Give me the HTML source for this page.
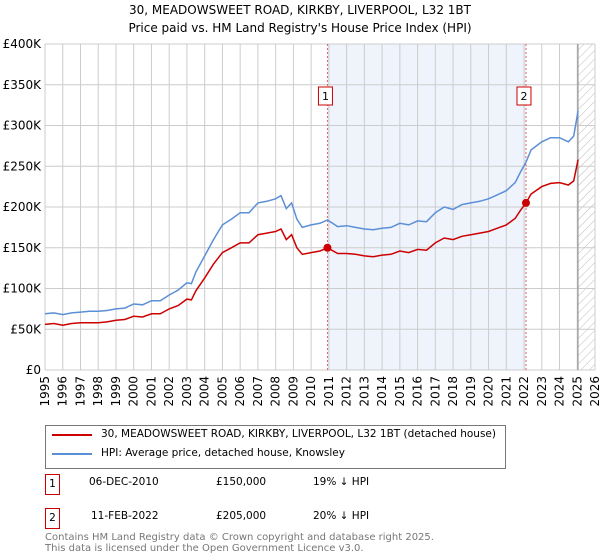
<!DOCTYPE html>
<html><head><meta charset="utf-8">
<style>
body{margin:0;background:#fff;font-family:"DejaVu Sans","Liberation Sans",sans-serif;}
#wrap{position:relative;width:600px;height:560px;overflow:hidden;}
</style></head>
<body>
<div id="wrap">
<svg id="chart" width="600" height="560" style="position:absolute;left:0;top:0;font-family:'DejaVu Sans','Liberation Sans',sans-serif">
<defs>
<pattern id="hatch" width="6" height="6" patternUnits="userSpaceOnUse" patternTransform="rotate(45)">
<line x1="0" y1="0" x2="0" y2="6" stroke="#bbb" stroke-width="1"/>
</pattern>
</defs>
<text x="300" y="14" text-anchor="middle" font-size="12" fill="#000">30, MEADOWSWEET ROAD, KIRKBY, LIVERPOOL, L32 1BT</text>
<text x="300" y="32" text-anchor="middle" font-size="12" fill="#000">Price paid vs. HM Land Registry's House Price Index (HPI)</text>
<g id="grid"></g><g id="marks"></g><g id="axes"></g>
</svg>
<div style="position:absolute;left:45px;top:425px;width:459px;height:42px;border:1px solid #777;font-size:10.5px;">
 <div style="position:absolute;left:6px;top:8px;width:40px;height:2px;background:#cc0000"></div>
 <div style="position:absolute;left:55px;top:2px;white-space:nowrap">30, MEADOWSWEET ROAD, KIRKBY, LIVERPOOL, L32 1BT (detached house)</div>
 <div style="position:absolute;left:6px;top:27px;width:40px;height:2px;background:#5b8fd6"></div>
 <div style="position:absolute;left:55px;top:21px;white-space:nowrap">HPI: Average price, detached house, Knowsley</div>
</div>
<div style="font-size:10.5px;">
 <div style="position:absolute;left:45px;top:474px;width:13px;height:19px;border:1px solid #cc0000;text-align:center;line-height:19px">1</div>
 <div style="position:absolute;left:89px;top:476px">06-DEC-2010</div>
 <div style="position:absolute;left:216px;top:476px">£150,000</div>
 <div style="position:absolute;left:313px;top:476px">19% ↓ HPI</div>
 <div style="position:absolute;left:45px;top:508px;width:13px;height:19px;border:1px solid #cc0000;text-align:center;line-height:19px">2</div>
 <div style="position:absolute;left:91px;top:510px">11-FEB-2022</div>
 <div style="position:absolute;left:216px;top:510px">£205,000</div>
 <div style="position:absolute;left:313px;top:510px">20% ↓ HPI</div>
</div>
<div style="position:absolute;left:45px;top:532px;font-size:10px;color:#777;line-height:11px">Contains HM Land Registry data © Crown copyright and database right 2025.<br>This data is licensed under the Open Government Licence v3.0.</div>
</div>
<script>
const years=[1995,1995.5,1996,1996.5,1997,1997.5,1998,1998.5,1999,1999.5,2000,2000.5,2001,2001.5,2002,2002.5,2003,2003.25,2003.5,2004,2004.5,2005,2005.5,2006,2006.5,2007,2007.5,2008,2008.3,2008.6,2008.9,2009.2,2009.5,2010,2010.5,2010.92,2011.5,2012,2012.5,2013,2013.5,2014,2014.5,2015,2015.5,2016,2016.5,2017,2017.5,2018,2018.5,2019,2019.5,2020,2020.5,2021,2021.5,2021.8,2022.11,2022.4,2023,2023.5,2024,2024.5,2024.8,2025.05];
const hpiValues=[69,70,68,70,71,72,72,73,75,76,81,80,85,85,92,98,107,106,120,140,160,178,185,193,193,205,207,210,214,198,205,185,175,178,180,184,176,177,175,173,172,174,175,180,178,183,182,193,200,197,203,205,207,210,215,220,230,243,255,270,280,285,285,280,287,318];
const priceValues=[56,57,55,57,58,58,58,59,61,62,66,65,69,69,75,79,87,86,97,113,130,144,150,156,156,166,168,170,173,160,166,150,142,144,146,150,143,143,142,140,139,141,142,146,144,148,147,156,162,160,164,166,168,170,174,178,186,196,205,216,225,229,230,227,232,258];
const saleYears=[2010.92,2022.11];
const salePrices=[150,205];
const saleLabels=["1","2"];
const yTicks=[0,50,100,150,200,250,300,350,400];
const yTickLabels=["£0","£50K","£100K","£150K","£200K","£250K","£300K","£350K","£400K"];
const xTicks=[1995,1996,1997,1998,1999,2000,2001,2002,2003,2004,2005,2006,2007,2008,2009,2010,2011,2012,2013,2014,2015,2016,2017,2018,2019,2020,2021,2022,2023,2024,2025,2026];
const forecastStart=2025.04;

const NS="http://www.w3.org/2000/svg";
const L=45,R=595,T=44,B=370;
const x=v=>L+(v-1995)/(2026-1995)*(R-L);
const y=v=>B-v/400*(B-T);
function mk(tag,attrs,parent){const e=document.createElementNS(NS,tag);for(const k in attrs)e.setAttribute(k,attrs[k]);parent.appendChild(e);return e;}
const grid=document.getElementById('grid'),marks=document.getElementById('marks'),axes=document.getElementById('axes');

let shade=mk('rect',{x:x(saleYears[0]),y:T,width:x(saleYears[1])-x(saleYears[0]),height:B-T,fill:'#eef3fc'},grid);


let hatch=mk('rect',{x:x(forecastStart),y:T,width:R-x(forecastStart),height:B-T,fill:'url(#hatch)'},grid);



xTicks.forEach(t=>{
  let g=mk('line',{x1:x(t),x2:x(t),y1:T,y2:B,stroke:'#ccc','stroke-width':1},grid);
  
  
  let tx=mk('text',{x:0,y:0,'font-size':12,fill:'#000','text-anchor':'end',transform:`translate(${x(t)+4},${B+6}) rotate(-90)`},axes);
  tx.textContent=t;
  
  
});
yTicks.forEach((t,i)=>{
  let g=mk('line',{x1:L,x2:R,y1:y(t),y2:y(t),stroke:'#ccc','stroke-width':1},grid);
  
  
  let tx=mk('text',{x:L-4,y:y(t)+4,'font-size':12,fill:'#000','text-anchor':'end'},axes);
  tx.textContent=yTickLabels[i];
  
  
});
let fl=mk('line',{x1:x(forecastStart),x2:x(forecastStart),y1:T,y2:B,stroke:'#888','stroke-width':1},grid);



saleYears.forEach((s,i)=>{
  let d=mk('line',{x1:x(s),x2:x(s),y1:T,y2:B,stroke:'#e06666','stroke-width':1,'stroke-dasharray':'2,2'},grid);
  
  
});

const pts=(vals)=>years.map((yr,i)=>x(yr).toFixed(1)+','+y(vals[i]).toFixed(1)).join(' ');
let hpi=mk('polyline',{points:pts(hpiValues),fill:'none',stroke:'#5b8fd6','stroke-width':1.5},marks);


let pl=mk('polyline',{points:pts(priceValues),fill:'none',stroke:'#cc0000','stroke-width':1.5},marks);



saleYears.forEach((s,i)=>{
  let c=mk('circle',{cx:x(s),cy:y(salePrices[i]),r:4,fill:'#cc0000'},marks);
  
  
  let b=mk('rect',{x:x(s)-9,y:87,width:14,height:18,fill:'#fff',stroke:'#cc0000','stroke-width':1},marks);
  
  
  let t=mk('text',{x:x(s)-2,y:100,'font-size':11,'text-anchor':'middle',fill:'#000'},marks);
  t.textContent=saleLabels[i];
  
  
});
</script>
</body></html>
